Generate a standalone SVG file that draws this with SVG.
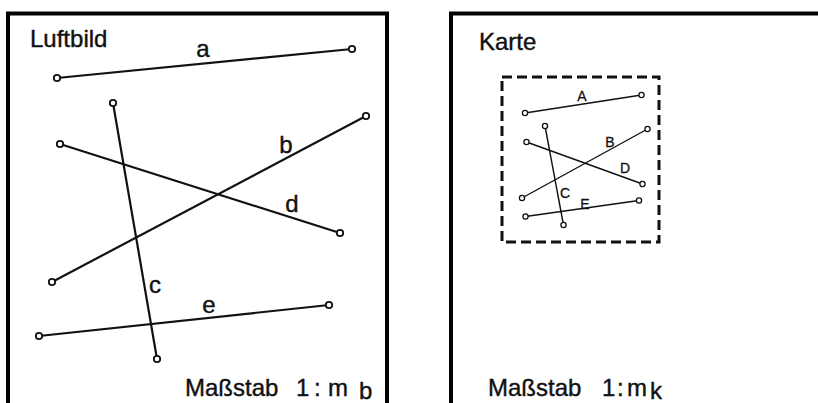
<svg xmlns="http://www.w3.org/2000/svg" width="818" height="403" viewBox="0 0 818 403">
<style>
.frame{fill:none;stroke:#000;stroke-width:4}
.ln{stroke:#111;stroke-width:2.2;fill:none}
.ls{stroke:#111;stroke-width:1.4;fill:none}
.pt{fill:#fff;stroke:#111;stroke-width:1.8}
.ps{fill:#fff;stroke:#111;stroke-width:1.3}
.t{font-family:"Liberation Sans","DejaVu Sans",sans-serif;font-size:24px;fill:#111;stroke:#111;stroke-width:0.4}
.s{font-family:"Liberation Sans","DejaVu Sans",sans-serif;font-size:14px;fill:#111;stroke:#111;stroke-width:0.3}
.dash{fill:none;stroke:#111;stroke-width:3;stroke-dasharray:10 5}
</style>
<rect width="818" height="403" fill="#fff"/>
<g id="luftbild">
<path class="frame" d="M8,410 V13.5 H387 V410"/>
<text class="t" x="30" y="47">Luftbild</text>
<text class="t" x="185" y="396">Maßstab</text>
<text class="t" x="296" y="396">1</text>
<text class="t" x="314" y="396">:</text>
<text class="t" x="328" y="396" font-size="26">m</text>
<text class="t" x="359" y="399" font-size="15">b</text>
</g>
<g id="karte">
<path class="frame" d="M451,410 V13.5 H830"/>
<text class="t" x="479" y="50">Karte</text>
<text class="t" x="488" y="396">Maßstab</text>
<text class="t" x="602" y="396">1</text>
<text class="t" x="617" y="396">:</text>
<text class="t" x="627" y="396" font-size="26">m</text>
<text class="t" x="650" y="399" font-size="15">k</text>
<rect class="dash" x="502" y="77" width="157" height="165"/>
</g>
<g id="connectors">
<line class="ln" x1="57" y1="78" x2="352" y2="49"/>
<line class="ln" x1="113" y1="103" x2="157" y2="359"/>
<line class="ln" x1="60" y1="144" x2="340" y2="233"/>
<line class="ln" x1="52" y1="282" x2="366" y2="116"/>
<line class="ln" x1="39" y1="336" x2="329" y2="305"/>
<line class="ls" x1="525" y1="113" x2="641.5" y2="95"/>
<line class="ls" x1="545" y1="126" x2="563.5" y2="225"/>
<line class="ls" x1="526.5" y1="142" x2="642.5" y2="184"/>
<line class="ls" x1="522" y1="198" x2="647.5" y2="129"/>
<line class="ls" x1="525.5" y1="216.5" x2="639" y2="200.5"/>
</g>
<g id="endpoints">
<circle class="pt" cx="57" cy="78" r="3.2"/><circle class="pt" cx="352" cy="49" r="3.2"/>
<circle class="pt" cx="113" cy="103" r="3.2"/><circle class="pt" cx="157" cy="359" r="3.2"/>
<circle class="pt" cx="60" cy="144" r="3.2"/><circle class="pt" cx="340" cy="233" r="3.2"/>
<circle class="pt" cx="52" cy="282" r="3.2"/><circle class="pt" cx="366" cy="116" r="3.2"/>
<circle class="pt" cx="39" cy="336" r="3.2"/><circle class="pt" cx="329" cy="305" r="3.2"/>
<circle class="ps" cx="525" cy="113" r="2.6"/><circle class="ps" cx="641.5" cy="95" r="2.6"/>
<circle class="ps" cx="545" cy="126" r="2.6"/><circle class="ps" cx="563.5" cy="225" r="2.6"/>
<circle class="ps" cx="526.5" cy="142" r="2.6"/><circle class="ps" cx="642.5" cy="184" r="2.6"/>
<circle class="ps" cx="522" cy="198" r="2.6"/><circle class="ps" cx="647.5" cy="129" r="2.6"/>
<circle class="ps" cx="525.5" cy="216.5" r="2.6"/><circle class="ps" cx="639" cy="200.5" r="2.6"/>
</g>
<g id="labels">
<text class="t" x="203" y="57" text-anchor="middle" font-size="26">a</text>
<text class="t" x="286" y="153" text-anchor="middle" font-size="26">b</text>
<text class="t" x="155" y="293" text-anchor="middle" font-size="26">c</text>
<text class="t" x="292" y="212" text-anchor="middle" font-size="26">d</text>
<text class="t" x="209" y="313" text-anchor="middle" font-size="26">e</text>
<text class="s" x="582" y="101" text-anchor="middle">A</text>
<text class="s" x="610" y="147" text-anchor="middle">B</text>
<text class="s" x="565" y="198" text-anchor="middle">C</text>
<text class="s" x="625" y="173" text-anchor="middle">D</text>
<text class="s" x="585" y="209" text-anchor="middle">E</text>
</g>
</svg>
